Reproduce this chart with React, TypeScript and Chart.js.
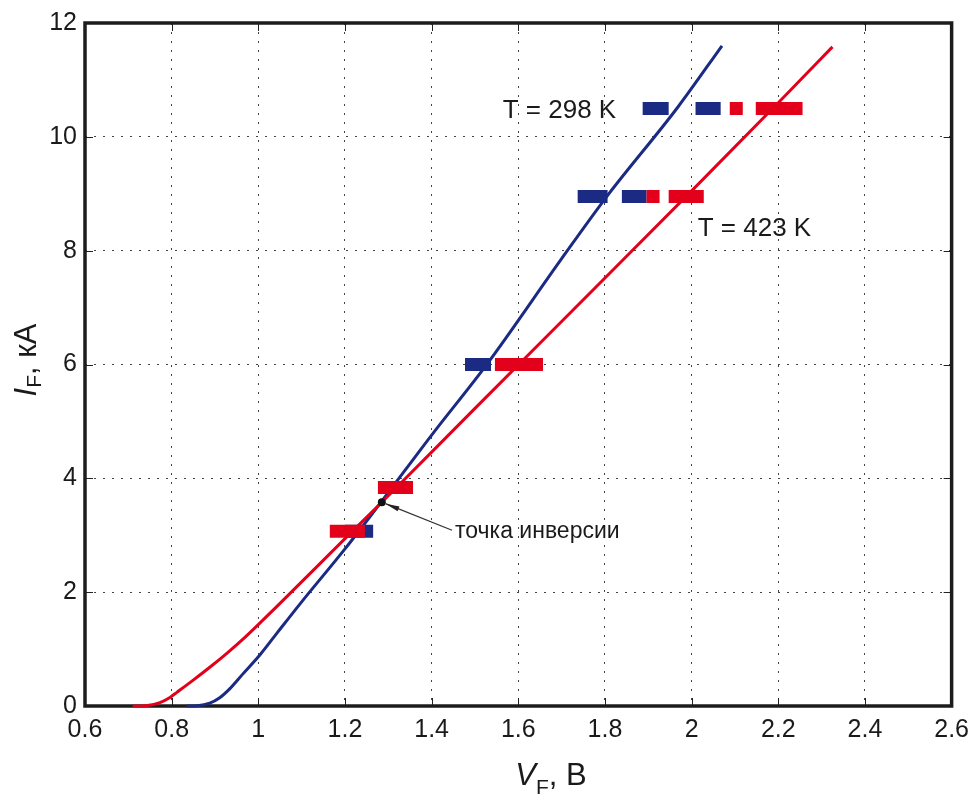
import React, { useEffect, useRef } from "react";
import { Chart, registerables } from "chart.js";

Chart.register(...registerables);

const FONT = "'Liberation Sans', Arial, Helvetica, sans-serif";

// axis ticks
const xTicks = [0.6, 0.8, 1.0, 1.2, 1.4, 1.6, 1.8, 2.0, 2.2, 2.4, 2.6];
const yTicks = [0, 2, 4, 6, 8, 10, 12];

// T = 298 K curve (V, kA)
const blueV = [0.835, 0.86, 0.888, 0.91, 0.935, 0.964, 1.004, 1.043, 1.1, 1.2, 1.285, 1.4, 1.53, 1.7, 1.804, 1.968, 2.07];
const blueI = [0, 0.005, 0.05, 0.14, 0.31, 0.56, 0.9, 1.28, 1.83, 2.76, 3.6, 4.76, 6.03, 7.86, 8.95, 10.52, 11.6];

// T = 423 K curve (V, kA)
const redV = [0.71, 0.74, 0.773, 0.796, 0.812, 0.849, 0.888, 0.928, 0.964, 1.004, 1.043, 1.2, 1.285, 1.5, 1.8, 2.0, 2.2, 2.325];
const redI = [0, 0.005, 0.06, 0.15, 0.24, 0.45, 0.68, 0.93, 1.17, 1.46, 1.75, 2.94, 3.58, 5.23, 7.52, 9.05, 10.6, 11.58];

// measured spread bars: current level, from V, to V
const blueBarI = [3.07, 6.0, 8.95, 8.95, 10.5, 10.5];
const blueBarFrom = [1.2, 1.477, 1.737, 1.839, 1.887, 2.009];
const blueBarTo = [1.265, 1.537, 1.806, 1.896, 1.947, 2.067];

const redBarI = [3.07, 3.84, 6.0, 8.95, 8.95, 10.5, 10.5];
const redBarFrom = [1.165, 1.276, 1.546, 1.896, 1.947, 2.088, 2.148];
const redBarTo = [1.246, 1.357, 1.657, 1.926, 2.028, 2.118, 2.256];

// inversion point
const inversionV = 1.285;
const inversionI = 3.58;
const inversionText = "точка инверсии";
const inversionTextV = 1.454;
const inversionTextI = 3.07;

// curve labels
const curveLabels = ["T = 298 K", "T = 423 K"];
const curveLabelV = [1.564, 2.014];
const curveLabelI = [10.46, 8.39];

const BLUE = "#1b2a82";
const RED = "#e3001b";

function toPoints(xs: number[], ys: number[]) {
  return xs.map((v, i) => ({ x: v, y: ys[i] }));
}

function barDatasets(I: number[], from: number[], to: number[], color: string, order: number) {
  return I.map((lvl, i) => ({
    type: "line" as const,
    data: [
      { x: from[i], y: lvl },
      { x: to[i], y: lvl },
    ],
    borderColor: color,
    borderWidth: 13,
    borderCapStyle: "butt" as const,
    pointRadius: 0,
    tension: 0,
    order,
  }));
}

function drawRich(
  ctx: CanvasRenderingContext2D,
  parts: { t: string; size: number; italic?: boolean; dy?: number }[],
  cx: number,
  baseY: number
) {
  let total = 0;
  const widths = parts.map((p) => {
    ctx.font = `${p.italic ? "italic " : ""}${p.size}px ${FONT}`;
    const w = ctx.measureText(p.t).width;
    total += w;
    return w;
  });
  let x = cx - total / 2;
  ctx.textAlign = "left";
  ctx.textBaseline = "alphabetic";
  parts.forEach((p, i) => {
    ctx.font = `${p.italic ? "italic " : ""}${p.size}px ${FONT}`;
    ctx.fillText(p.t, x, baseY + (p.dy || 0));
    x += widths[i];
  });
}

const framePlugin = {
  id: "frame",
  beforeDatasetsDraw(chart: any) {
    const { ctx, chartArea: a, scales } = chart;
    const x = scales.x;
    const y = scales.y;
    ctx.save();
    ctx.strokeStyle = "#222";
    ctx.lineWidth = 1;
    xTicks.forEach((v) => {
      const px = Math.round(x.getPixelForValue(v)) + 0.5;
      ctx.beginPath();
      ctx.moveTo(px, a.bottom);
      ctx.lineTo(px, a.bottom - 8);
      ctx.moveTo(px, a.top);
      ctx.lineTo(px, a.top + 8);
      ctx.stroke();
    });
    yTicks.forEach((v) => {
      const py = Math.round(y.getPixelForValue(v)) + 0.5;
      ctx.beginPath();
      ctx.moveTo(a.left, py);
      ctx.lineTo(a.left + 8, py);
      ctx.moveTo(a.right, py);
      ctx.lineTo(a.right - 8, py);
      ctx.stroke();
    });
    ctx.lineWidth = 3.5;
    ctx.strokeStyle = "#1c1c1c";
    ctx.strokeRect(a.left, a.top, a.right - a.left, a.bottom - a.top);
    ctx.restore();
  },
  afterDatasetsDraw(chart: any) {
    const { ctx, scales } = chart;
    const x = scales.x;
    const y = scales.y;
    ctx.save();
    ctx.fillStyle = "#1a1a1a";
    ctx.font = `26px ${FONT}`;
    ctx.textAlign = "left";
    ctx.textBaseline = "middle";
    curveLabels.forEach((t, i) => {
      ctx.fillText(t, x.getPixelForValue(curveLabelV[i]), y.getPixelForValue(curveLabelI[i]));
    });
    ctx.font = `23px ${FONT}`;
    const tx = x.getPixelForValue(inversionTextV);
    const ty = y.getPixelForValue(inversionTextI);
    ctx.fillText(inversionText, tx, ty);

    // arrow
    const dx = x.getPixelForValue(inversionV);
    const dy = y.getPixelForValue(inversionI);
    const sx = tx - 3;
    const sy = ty - 1;
    const ang = Math.atan2(dy - sy, dx - sx);
    const ex = dx - Math.cos(ang) * 4;
    const ey = dy - Math.sin(ang) * 4;
    ctx.strokeStyle = "#333";
    ctx.lineWidth = 1.3;
    ctx.beginPath();
    ctx.moveTo(sx, sy);
    ctx.lineTo(ex, ey);
    ctx.stroke();
    ctx.fillStyle = "#222";
    ctx.beginPath();
    ctx.moveTo(ex, ey);
    ctx.lineTo(ex - Math.cos(ang) * 14 + Math.sin(ang) * 2.5, ey - Math.sin(ang) * 14 - Math.cos(ang) * 2.5);
    ctx.lineTo(ex - Math.cos(ang) * 14 - Math.sin(ang) * 2.5, ey - Math.sin(ang) * 14 + Math.cos(ang) * 2.5);
    ctx.closePath();
    ctx.fill();
    ctx.restore();
  },
  afterDraw(chart: any) {
    const { ctx } = chart;
    ctx.save();
    ctx.fillStyle = "#1a1a1a";
    drawRich(
      ctx,
      [
        { t: "V", size: 31, italic: true },
        { t: "F", size: 21, dy: 9 },
        { t: ", В", size: 31 },
      ],
      551,
      785
    );
    ctx.translate(36, 360);
    ctx.rotate(-Math.PI / 2);
    drawRich(
      ctx,
      [
        { t: "I", size: 31, italic: true },
        { t: "F", size: 21, dy: 5 },
        { t: ", кА", size: 31 },
      ],
      0,
      0
    );
    ctx.restore();
  },
};

export default function App() {
  const ref = useRef<HTMLCanvasElement | null>(null);
  useEffect(() => {
    document.body.style.margin = "0";
    const canvas = ref.current;
    if (!canvas) return;
    const chart = new Chart(canvas, {
      type: "line",
      data: {
        datasets: [
          {
            data: toPoints(blueV, blueI),
            borderColor: BLUE,
            borderWidth: 3,
            pointRadius: 0,
            cubicInterpolationMode: "monotone",
            clip: false,
            order: 10,
          },
          {
            data: toPoints(redV, redI),
            borderColor: RED,
            borderWidth: 3,
            pointRadius: 0,
            cubicInterpolationMode: "monotone",
            clip: false,
            order: 9,
          },
          ...barDatasets(blueBarI, blueBarFrom, blueBarTo, BLUE, 5),
          ...barDatasets(redBarI, redBarFrom, redBarTo, RED, 4),
          {
            type: "scatter",
            data: [{ x: inversionV, y: inversionI }],
            pointRadius: 4,
            pointBackgroundColor: "#111",
            pointBorderColor: "#111",
            borderWidth: 0,
            order: 0,
          } as any,
        ] as any,
      },
      options: {
        animation: false,
        responsive: false,
        devicePixelRatio: 1,
        layout: { padding: { left: 0, top: 22, right: 25, bottom: 0 } },
        plugins: { legend: { display: false }, tooltip: { enabled: false } },
        scales: {
          x: {
            type: "linear",
            min: 0.6,
            max: 2.6,
            afterFit: (s: any) => {
              s.height = 91;
            },
            afterBuildTicks: (s: any) => {
              s.ticks = xTicks.map((v) => ({ value: v }));
            },
            ticks: {
              font: { family: FONT, size: 25 },
              color: "#1a1a1a",
              padding: 9,
              maxRotation: 0,
              autoSkip: false,
              callback: (v: any) => String(Math.round(Number(v) * 10) / 10),
            },
            grid: { color: "#444", lineWidth: 1, drawTicks: false },
            border: { display: false, dash: [2, 7] },
          },
          y: {
            type: "linear",
            min: 0,
            max: 12,
            afterFit: (s: any) => {
              s.width = 85;
            },
            afterBuildTicks: (s: any) => {
              s.ticks = yTicks.map((v) => ({ value: v }));
            },
            ticks: {
              font: { family: FONT, size: 25 },
              color: "#1a1a1a",
              padding: 8,
              autoSkip: false,
              callback: (v: any) => String(v),
            },
            grid: { color: "#444", lineWidth: 1, drawTicks: false },
            border: { display: false, dash: [2, 7] },
          },
        },
      },
      plugins: [framePlugin],
    } as any);
    return () => chart.destroy();
  }, []);
  return (
    <div style={{ width: 978, height: 797, background: "#fff" }}>
      <canvas ref={ref} width={978} height={797} style={{ display: "block" }} />
    </div>
  );
}
